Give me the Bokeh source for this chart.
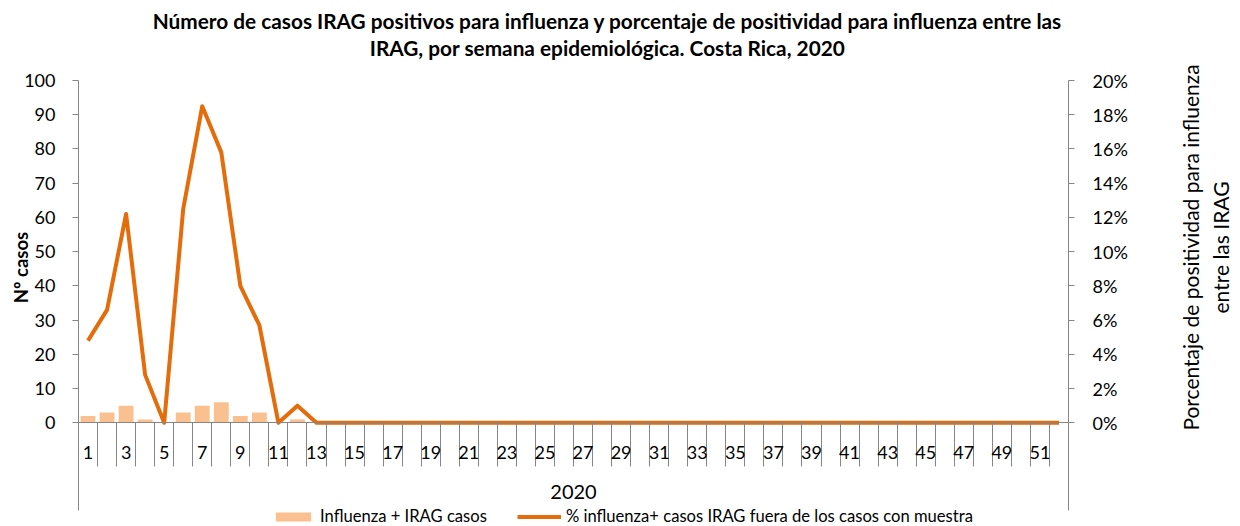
import math
from bokeh.plotting import figure
from bokeh.models import (Range1d, LinearAxis, FixedTicker, PrintfTickFormatter,
                          Label, Legend, LegendItem)
from bokeh.embed import file_html
from bokeh.resources import INLINE

# ---------------- data ----------------
weeks = [1, 2, 3, 4, 5, 6, 7, 8, 9, 10, 11, 12, 13, 14, 15, 16, 17, 18, 19, 20,
         21, 22, 23, 24, 25, 26, 27, 28, 29, 30, 31, 32, 33, 34, 35, 36, 37, 38, 39, 40,
         41, 42, 43, 44, 45, 46, 47, 48, 49, 50, 51, 52]
casos = [2, 3, 5, 1, 0, 3, 5, 6, 2, 3, 0, 1, 0, 0, 0, 0, 0, 0, 0, 0,
         0, 0, 0, 0, 0, 0, 0, 0, 0, 0, 0, 0, 0, 0, 0, 0, 0, 0, 0, 0,
         0, 0, 0, 0, 0, 0, 0, 0, 0, 0, 0, 0]
positividad = [4.8, 6.6, 12.2, 2.8, 0.0, 12.5, 18.5, 15.8, 8.0, 5.7, 0.0, 1.0, 0.0, 0.0, 0.0, 0.0, 0.0, 0.0, 0.0, 0.0,
               0.0, 0.0, 0.0, 0.0, 0.0, 0.0, 0.0, 0.0, 0.0, 0.0, 0.0, 0.0, 0.0, 0.0, 0.0, 0.0, 0.0, 0.0, 0.0, 0.0,
               0.0, 0.0, 0.0, 0.0, 0.0, 0.0, 0.0, 0.0, 0.0, 0.0, 0.0, 0.0]
week_tick_labels = [1, 3, 5, 7, 9, 11, 13, 15, 17, 19, 21, 23, 25, 27, 29, 31, 33, 35, 37, 39,
                    41, 43, 45, 47, 49, 51]
left_ticks = [0, 10, 20, 30, 40, 50, 60, 70, 80, 90, 100]
right_ticks = [0, 2, 4, 6, 8, 10, 12, 14, 16, 18, 20]

title_lines = ["Número de casos IRAG positivos para influenza y porcentaje de positividad para influenza entre las",
               "IRAG, por semana epidemiológica. Costa Rica, 2020"]
left_title = "Nº casos"
right_title_lines = ["Porcentaje de positividad para influenza", "entre las IRAG"]
x_title = "2020"
bar_label = "Influenza + IRAG casos"
line_label = "% influenza+ casos IRAG fuera de los casos con muestra"

FONT = "Lato"
BAR_COLOR = "#FAC090"
LINE_COLOR = "#E46C0A"
AXIS_COLOR = "#868686"

# ---------------- layout (pixels) ----------------
W, H = 1240, 526
PX_LEFT, PX_RIGHT = 78, 1068        # plot area left / right edge
PX_TOP, PX_ZERO = 80, 422.3         # y of top value and of zero
PX_BOX_BOTTOM = 510                 # bottom of the category box

bounds = [w - 0.5 for w in weeks] + [weeks[-1] + 0.5]
x0, x1 = bounds[0], bounds[-1]
ux = (PX_RIGHT - PX_LEFT) / (x1 - x0)
y_top = left_ticks[-1]
uy = (PX_ZERO - PX_TOP) / y_top
r_top = right_ticks[-1]
ry = r_top / y_top

x_start = x0 - PX_LEFT / ux
x_end = x1 + (W - PX_RIGHT) / ux
y_end = y_top + PX_TOP / uy
y_start = -(H - PX_ZERO) / uy
y_box = -(PX_BOX_BOTTOM - PX_ZERO) / uy

p = figure(width=W, height=H, output_backend="svg", toolbar_location=None,
           x_range=Range1d(x_start, x_end), y_range=Range1d(y_start, y_end),
           x_axis_type=None, y_axis_type=None,
           min_border_left=0, min_border_right=0, min_border_top=0, min_border_bottom=0)
p.outline_line_color = None
p.background_fill_color = "white"
p.border_fill_color = "white"
p.extra_y_ranges = {"pct": Range1d(y_start * ry, y_end * ry)}

# left axis
ya = LinearAxis(ticker=FixedTicker(ticks=left_ticks, minor_ticks=[]),
                fixed_location=x0, bounds=(y_box, y_top))
# right axis
yb = LinearAxis(y_range_name="pct", ticker=FixedTicker(ticks=right_ticks, minor_ticks=[]),
                formatter=PrintfTickFormatter(format="%d%%"),
                fixed_location=x1, bounds=(y_box * ry, r_top))
for ax in (ya, yb):
    ax.axis_line_color = AXIS_COLOR
    ax.major_tick_line_color = AXIS_COLOR
    ax.major_tick_out = 6
    ax.major_tick_in = 0
    ax.minor_tick_line_color = None
    ax.major_label_text_font = FONT
    ax.major_label_text_font_size = "18px"
    ax.major_label_text_color = "black"
ya.major_label_standoff = 17
yb.major_label_standoff = 18
p.add_layout(ya, "left")
p.add_layout(yb, "right")

# x axis at y = 0, boundary ticks as minor ticks
xa = LinearAxis(ticker=FixedTicker(ticks=week_tick_labels, minor_ticks=bounds),
                fixed_location=0, bounds=(x0, x1), axis_label=x_title)
xa.axis_line_color = AXIS_COLOR
xa.major_tick_line_color = None
xa.major_tick_out = 0
xa.major_tick_in = 0
xa.minor_tick_line_color = AXIS_COLOR
xa.minor_tick_out = 44
xa.minor_tick_in = 0
xa.major_label_text_font = FONT
xa.major_label_text_font_size = "18px"
xa.major_label_text_color = "black"
xa.major_label_standoff = -21
xa.axis_label_text_font = FONT
xa.axis_label_text_font_size = "20px"
xa.axis_label_text_font_style = "normal"
xa.axis_label_text_color = "black"
xa.axis_label_standoff = 23
p.add_layout(xa, "below")

bars = p.vbar(x=weeks, top=casos, bottom=0, width=0.78, fill_color=BAR_COLOR, line_color=None)
line = p.line(x=weeks, y=positividad, y_range_name="pct", line_color=LINE_COLOR,
              line_width=4, line_join="round")

legend = Legend(items=[LegendItem(label=bar_label, renderers=[bars]),
                       LegendItem(label=line_label, renderers=[line])],
                orientation="horizontal", location=(271, 0),
                border_line_color=None, background_fill_alpha=0,
                padding=0, margin=0, spacing=30, glyph_width=44, glyph_height=11,
                label_standoff=5, label_text_font=FONT, label_text_font_size="16.6px",
                label_text_color="black")
p.add_layout(legend)

# titles (screen units: from bottom-left of the canvas)
def lab(text, sx, sy, size, bold=False, angle=0.0):
    p.add_layout(Label(x=sx, y=H - sy, x_units="screen", y_units="screen", text=text,
                       angle=angle, text_align="center", text_baseline="middle",
                       text_font=FONT, text_font_size=size,
                       text_font_style="bold" if bold else "normal", text_color="black"))

lab(title_lines[0], 607, 20, "20.8px", bold=True)
lab(title_lines[1], 607, 47, "20.8px", bold=True)
lab(left_title, 20, 267, "18.5px", bold=True, angle=math.pi / 2)
lab(right_title_lines[0], 1190, 247, "21px", angle=math.pi / 2)
lab(right_title_lines[1], 1220, 247, "21px", angle=math.pi / 2)

open("out.html", "w").write(file_html(p, INLINE))
